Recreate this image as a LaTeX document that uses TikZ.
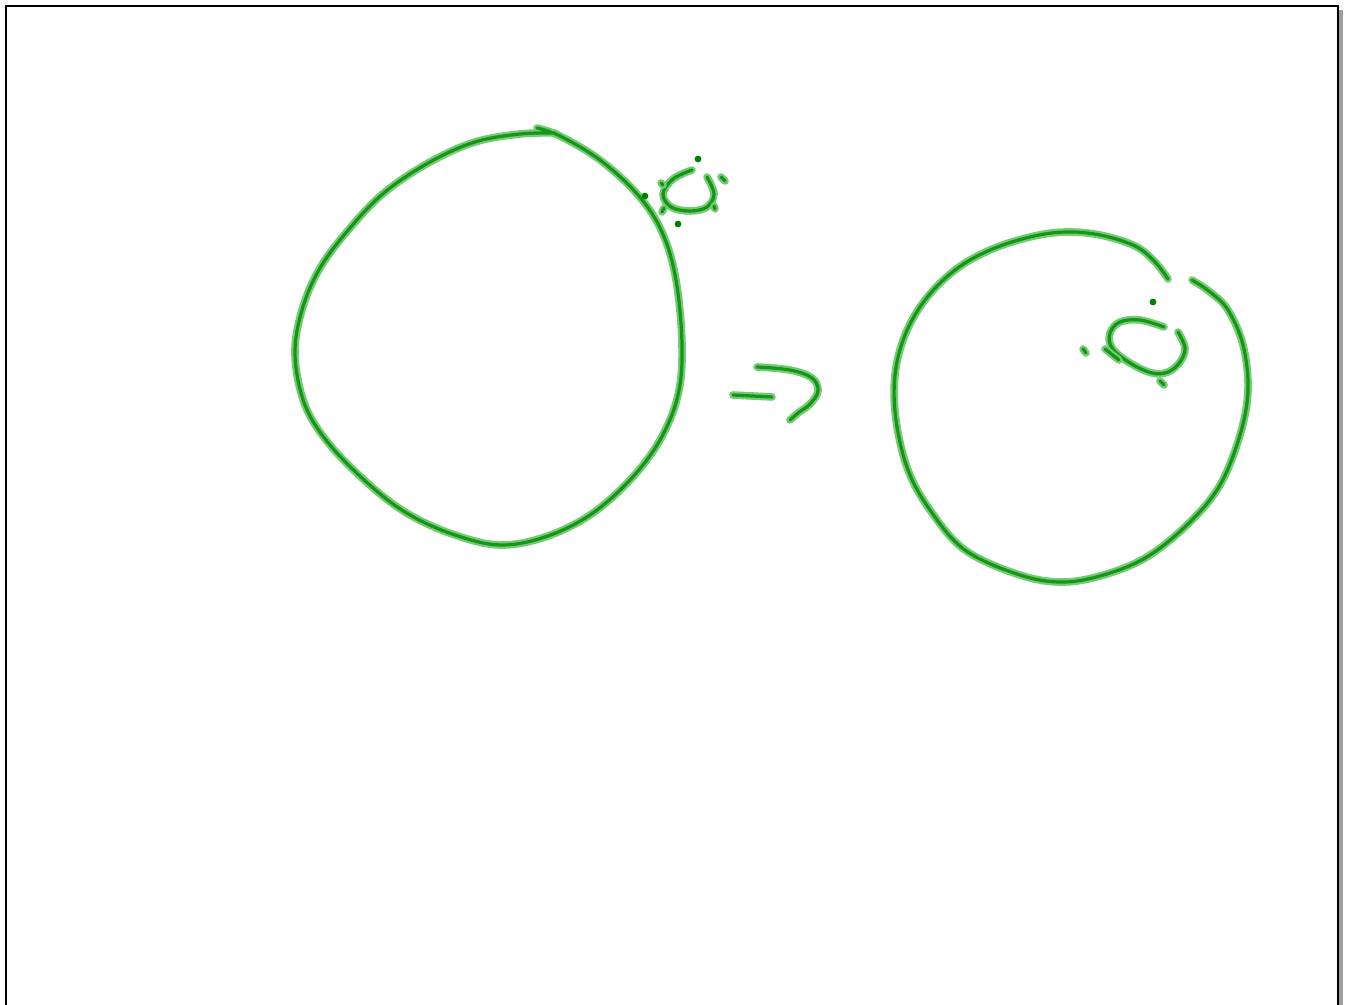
\documentclass[tikz,border=0pt]{standalone}
\usetikzlibrary{calc}
\definecolor{inkcore}{RGB}{22,150,22}
\definecolor{inkhalo}{RGB}{115,203,115}
\definecolor{dotink}{RGB}{0,130,0}
\tikzset{
  pen/.style={draw=inkcore, line width=1.6pt, line cap=round, line join=round,
    preaction={draw=inkhalo, line width=3.8pt, line cap=round, line join=round}},
  inkdot/.style={fill=dotink, circle, inner sep=0pt, minimum size=3.4pt},
  frameline/.style={draw=black, line width=1pt},
  frameshadow/.style={draw=gray!75, line width=1.7pt}
}
\begin{document}
\begin{tikzpicture}[x=0.5pt,y=-0.5pt]
\useasboundingbox[fill=white] (0,0) rectangle (1348,1005);
% frame
\draw[frameshadow] (1341,10) -- (1341,1005);
\draw[frameline] (6,1005) -- (6,6) -- (1338,6) -- (1338,1005);
% big left circle
\draw[pen] plot[smooth, tension=0.6] coordinates {
 (537,128) (560,136) (600,160) (638,195) (662,232) (676,280) (682,345) (678,395)
 (660,440) (630,480) (590,515) (545,537) (500,545) (455,535) (410,515) (372,487)
 (330,445) (305,405) (295,355) (302,310) (320,268) (350,228) (385,192) (430,162)
 (475,142) (520,134) (555,133)};
% small circle top left
\draw[pen] plot[smooth, tension=0.6] coordinates {
 (692,170) (673,179) (663,194) (671,207) (690,211) (707,207) (714,194) (707,177)};
\draw[pen] (661,183) -- (663,185);
\draw[pen] (721,177) -- (725,181);
\draw[pen] (664,208) -- (662,212);
\draw[pen] (714,206) -- (715,209);
\node[inkdot] (d1) at (698,159) {};
\node[inkdot] (d2) at (645,196) {};
\node[inkdot] (d3) at (678,224) {};
% arrow
\draw[pen] (733,395) -- (772,397);
\draw[pen] plot[smooth, tension=0.6] coordinates {
 (757,367) (790,370) (812,378) (818,391) (810,404) (798,413) (790,420)};
% right circle
\draw[pen] plot[smooth, tension=0.6] coordinates {
 (1168,279) (1155,262) (1135,246) (1100,235) (1065,232) (1030,237) (990,250)
 (955,270) (925,300) (905,335) (895,375) (896,420) (908,470) (930,510) (965,550)
 (1020,575) (1065,582) (1110,573) (1150,555) (1190,522) (1220,485) (1240,435)
 (1248,390) (1243,345) (1228,310) (1210,292) (1192,280)};
% small ellipse right
\draw[pen] plot[smooth, tension=0.6] coordinates {
 (1164,327) (1140,320) (1120,322) (1110,333) (1112,348) (1130,363) (1152,373)
 (1168,372) (1180,362) (1185,348) (1178,332)};
\draw[pen] (1105,349) -- (1119,360);
\draw[pen] (1083,349) -- (1086,353);
\draw[pen] (1160,381) -- (1164,385);
\node[inkdot] (d4) at (1153,302) {};
\end{tikzpicture}
\end{document}
